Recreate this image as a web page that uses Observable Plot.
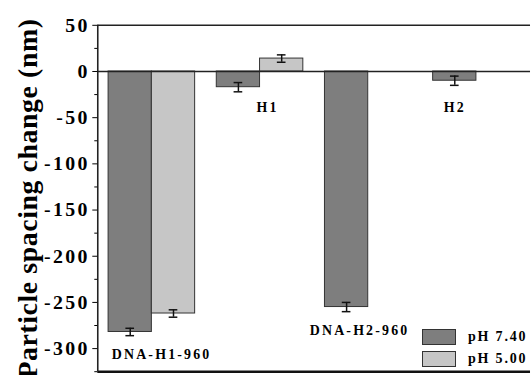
<!DOCTYPE html>
<html>
<head>
<meta charset="utf-8">
<script src="https://cdn.jsdelivr.net/npm/d3@7"></script>
<script src="https://cdn.jsdelivr.net/npm/@observablehq/plot@0.6"></script>
<style>
  html, body { margin: 0; padding: 0; background: #fff; overflow: hidden; }
  #wrap { position: relative; width: 532px; height: 378px; overflow: hidden; }
  #wrap svg text { font-family: "Liberation Serif", "Times New Roman", serif; font-weight: bold; }
  .legend { position: absolute; left: 422px; top: 326px; font-family: "Liberation Serif", "Times New Roman", serif; font-weight: bold; font-size: 14px; letter-spacing: 1.8px; color: #000; }
  .legend .row { display: flex; align-items: center; height: 22px; }
  .legend .sw { width: 34px; height: 16px; border: 1px solid #333; box-sizing: border-box; margin-right: 12px; }
</style>
</head>
<body>
<div id="wrap"></div>
<script>
// Data
const groups = ["DNA-H1-960", "H1", "DNA-H2-960", "H2"];
const phLevels = ["pH 7.40", "pH 5.00"];
const valuesPH740 = [-282, -17, -255, -10];
const errorsPH740 = [4, 5, 5, 5];
const valuesPH500 = [-262, 14, null, null];
const errorsPH500 = [4, 4, null, null];
const majorTicks = [-300, -250, -200, -150, -100, -50, 0, 50];
const minorTicks = [-325, -275, -225, -175, -125, -75, -25, 25];
const yTitle = "Particle spacing change (nm)";
const colors = ["#7e7e7e", "#c6c6c6"];
// annotation placement of group labels (x offset in group units, y in data units)
const labelOffsetX = [0.09, 0.07, -0.08, -0.2];
const labelY = [-306, -39, -280, -39];

// build table
const rows = [];
groups.forEach((g, i) => {
  [valuesPH740, valuesPH500].forEach((vals, k) => {
    const v = vals[i];
    if (v == null) return;
    const e = (k === 0 ? errorsPH740 : errorsPH500)[i];
    const x1 = k === 0 ? i - 0.4 : i;
    rows.push({group: g, ph: phLevels[k], value: v, err: e, x1, x2: x1 + 0.4, xc: x1 + 0.2});
  });
});
const labels = groups.map((g, i) => ({name: g, x: i + labelOffsetX[i], y: labelY[i]}));
const cap = 0.04;

const chart = Plot.plot({
  width: 536,
  height: 378,
  marginLeft: 98,
  marginRight: 2,
  marginTop: 25,
  marginBottom: 4,
  x: {type: "linear", domain: [-0.5, 3.5], axis: null},
  y: {domain: [-325, 50]},
  color: {domain: phLevels, range: colors},
  marks: [
    Plot.rectY(rows, {x1: "x1", x2: "x2", y1: 0, y2: "value", fill: "ph", stroke: "#333", strokeWidth: 1}),
    Plot.ruleY([0], {stroke: "#222", strokeWidth: 1.6}),
    Plot.ruleY([50], {stroke: "#222", strokeWidth: 1.6}),
    Plot.ruleY([-325], {stroke: "#111", strokeWidth: 2.6}),
    Plot.ruleX([-0.5], {stroke: "#222", strokeWidth: 1.6}),
    Plot.ruleX(rows, {x: "xc", y1: d => d.value - d.err, y2: d => d.value + d.err, stroke: "#111", strokeWidth: 1.5}),
    Plot.ruleY(rows, {y: d => d.value - d.err, x1: d => d.xc - cap, x2: d => d.xc + cap, stroke: "#111", strokeWidth: 1.5}),
    Plot.ruleY(rows, {y: d => d.value + d.err, x1: d => d.xc - cap, x2: d => d.xc + cap, stroke: "#111", strokeWidth: 1.5}),
    Plot.axisY(majorTicks, {tickSize: 5, tickPadding: 3, tickFormat: d => String(d), fontSize: 20, label: null}),
    Plot.axisY(minorTicks, {tickSize: 3, tickFormat: () => "", label: null}),
    Plot.text([yTitle], {frameAnchor: "left", textAnchor: "middle", rotate: -90, dx: -70, fontSize: 28, fontWeight: "bold", fill: "#000"}),
    Plot.text(labels, {x: "x", y: "y", text: "name", fontSize: 14, fontWeight: "bold", fill: "#000"})
  ]
});
document.getElementById("wrap").appendChild(chart);

// widen glyph spacing to match the reference's stretched lettering
const tickStrings = new Set(majorTicks.map(String));
const groupStrings = new Set(groups);
chart.querySelectorAll("text").forEach(t => {
  t.getBBox();
  const s = t.textContent.trim();
  if (tickStrings.has(s)) t.style.letterSpacing = "2.4px";
  else if (groupStrings.has(s)) t.style.letterSpacing = "2.2px";
  else if (s === yTitle) t.style.letterSpacing = "0.6px";
});

// legend
const legend = document.createElement("div");
legend.className = "legend";
phLevels.forEach((p, k) => {
  const row = document.createElement("div");
  row.className = "row";
  const sw = document.createElement("div");
  sw.className = "sw";
  sw.style.background = colors[k];
  const t = document.createElement("span");
  t.textContent = p;
  row.appendChild(sw);
  row.appendChild(t);
  legend.appendChild(row);
});
document.getElementById("wrap").appendChild(legend);
</script>
</body>
</html>
